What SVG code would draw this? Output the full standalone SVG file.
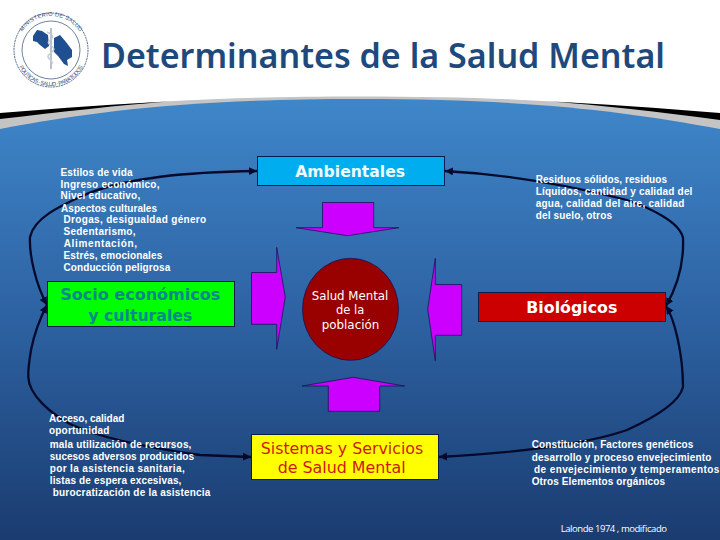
<svg xmlns="http://www.w3.org/2000/svg" width="720" height="540" viewBox="0 0 720 540">
<style>
.lbl{font-family:"Liberation Sans","DejaVu Sans",sans-serif;font-weight:700;font-size:10px;fill:#fff}
.box{stroke:#0b1c4e;stroke-width:1}
.arr{fill:#cc00ff;stroke:#14145a;stroke-width:.8}
.con{fill:none;stroke:#050a2c;stroke-width:2.300;marker-start:url(#ah);marker-end:url(#ah)}
.big{font-family:"DejaVu Sans",sans-serif;font-size:16px}
.mid{font-family:"DejaVu Sans",sans-serif;font-size:12px;fill:#fff}
.logo{font-family:"Liberation Sans",sans-serif;font-size:5.600px;fill:#3a4f78;text-anchor:middle}
</style>
<defs>
<linearGradient id="bg" x1="0" y1="96" x2="0" y2="540" gradientUnits="userSpaceOnUse">
<stop offset="0" stop-color="#3f87ca"/><stop offset=".5" stop-color="#2d62a2"/><stop offset="1" stop-color="#1a3c70"/>
</linearGradient>
<linearGradient id="sl" x1="0" y1="0" x2="175" y2="0" gradientUnits="userSpaceOnUse">
<stop offset="0" stop-color="#000"/><stop offset=".85" stop-color="#000"/><stop offset="1" stop-color="#c4c4c4"/>
</linearGradient>
<linearGradient id="sr" x1="720" y1="0" x2="545" y2="0" gradientUnits="userSpaceOnUse">
<stop offset="0" stop-color="#000"/><stop offset=".85" stop-color="#000"/><stop offset="1" stop-color="#c4c4c4"/>
</linearGradient>
<marker id="ah" markerUnits="userSpaceOnUse" markerWidth="10" markerHeight="10" refX="8" refY="4" orient="auto-start-reverse">
<path d="M0,0 L8,4 L0,8 Z" fill="#050a2c"/>
</marker>
<path id="lt" d="M17,50 A34,34 0 0 1 85,50"/>
<path id="lb" d="M15,50 A36,36 0 0 0 87,50"/>
</defs>

<rect width="720" height="540" fill="#fff"/>
<g id="header">
<path d="M0,117 C100,104 200,96.500 360,96.500 C520,96.500 620,104 720,118 L720,131 L0,131 Z" fill="#c4c4c4"/>
<path d="M0,113 C60,108 120,104 175,101 C120,105 60,112 0,119 Z" fill="url(#sl)"/>
<path d="M720,113 C660,108 600,104 545,101 C600,105 660,112 720,120 Z" fill="url(#sr)"/>
<path d="M0,129 C100,110 200,99 360,99 C520,99 620,110 720,129 L720,540 L0,540 Z" fill="url(#bg)"/>
<text x="101" y="68" font-family="'Noto Sans','Open Sans',sans-serif" font-weight="600" font-size="34" fill="#1f497d" textLength="564" lengthAdjust="spacingAndGlyphs">Determinantes de la Salud Mental</text>
</g>

<g id="logo">
<circle cx="51" cy="50" r="37" fill="#fff" stroke="#2d4a78" stroke-width=".8" stroke-dasharray="2 .7"/>
<circle cx="51" cy="50" r="29" fill="#fff" stroke="#2d4a78" stroke-width=".7"/>
<path d="M33,36 L37,30 L42,31 L48,35 L49,46 L45,49 L40,45 L37,42 L33,41 Z" fill="#1f4e91"/>
<path d="M54,38 L60,35 L66,42 L72,50 L72,57 L67,60 L68,66 L64,64 L58,56 L54,52 Z" fill="#1f4e91"/>
<path d="M50,28 L52,28 L52,69 L50,69 Z" fill="#b8c0cc"/>
<path d="M47,32 C54,35 54,38 49,41 C46,44 54,46 54,49 C54,52 47,54 48,57 C49,60 53,60 52,64" fill="none" stroke="#c6ccd6" stroke-width="1.500"/>
<text class="logo"><textPath href="#lt" startOffset="50%" textLength="68">MINISTERIO DE SALUD</textPath></text>
<text class="logo"><textPath href="#lb" startOffset="50%" textLength="78">POLITICAS · SALUD · PARA TODOS</textPath></text>
</g>

<g id="connectors">
<path class="con" d="M257,171 C190,172 125,177 82,196 C60,206 34,218 30,237 C29,255 36,285 47,305"/>
<path class="con" d="M47,305 C38,322 33,340 31,350 C29,362 28,370 28.300,377 C29,395 50,413 70,424 C100,438 150,448 200,455 L251,457"/>
<path class="con" d="M445,171 C500,174 560,183 627,200 C650,208 680,222 683,238 C684,262 678,285 666,306"/>
<path class="con" d="M666,306 C675,320 683,355 683,387 C680,400 660,415 627,430 C590,443 520,453 439,457"/>
</g>

<g id="ambientales">
<rect class="box" x="257.500" y="156.500" width="187" height="29" fill="#00aeef"/>
<text class="big" x="295.300" y="177.300" fill="#f0fafa" font-weight="700" textLength="109.700" lengthAdjust="spacingAndGlyphs">Ambientales</text>
</g>
<g id="socio">
<rect class="box" x="47.500" y="281.500" width="187" height="45" fill="#00ff00"/>
<text class="big" x="60.300" y="300" fill="#008a8a" textLength="160" lengthAdjust="spacingAndGlyphs" font-weight="700">Socio económicos</text>
<text class="big" x="88.300" y="321" fill="#008a8a" textLength="104" lengthAdjust="spacingAndGlyphs" font-weight="700">y culturales</text>
</g>
<g id="biologicos">
<rect class="box" x="478.500" y="292.500" width="187" height="29" fill="#cc0000"/>
<text class="big" x="526.300" y="313.300" fill="#fff" font-weight="700" textLength="91" lengthAdjust="spacingAndGlyphs">Biológicos</text>
</g>
<g id="sistemas">
<rect class="box" x="251.500" y="434.500" width="187" height="45" fill="#ffff00"/>
<text class="big" x="260.700" y="453.700" fill="#cc1a10" textLength="162.600" lengthAdjust="spacingAndGlyphs">Sistemas y Servicios</text>
<text class="big" x="277.700" y="472.700" fill="#cc1a10" textLength="128" lengthAdjust="spacingAndGlyphs">de Salud Mental</text>
</g>
<g id="salud">
<ellipse cx="350.500" cy="309.300" rx="48" ry="51" fill="#990000" stroke="#14145a" stroke-width=".8"/>
<text class="mid" x="311.700" y="300" textLength="76.600" lengthAdjust="spacingAndGlyphs">Salud Mental</text>
<text class="mid" x="336" y="314.300" textLength="28.300" lengthAdjust="spacingAndGlyphs">de la</text>
<text class="mid" x="321.700" y="328.700" textLength="57.600" lengthAdjust="spacingAndGlyphs">población</text>
</g>

<g id="flechas">
<path class="arr" d="M322.500,202.500 H373.700 V227.700 L399,227.700 L347.500,235.700 L296,227.700 H322.500 Z"/>
<path class="arr" d="M251.500,272.500 H276.700 V247.300 L285.300,297 L276.700,349.300 V324.300 H251.500 Z"/>
<path class="arr" d="M461.700,284.500 H435.300 V258.300 L427.700,309.300 L435.300,360.700 V335.300 H461.700 Z"/>
<path class="arr" d="M328.300,411.300 H379.700 V386 H404.700 L353.300,377.300 L302,386 H328.300 Z"/>
</g>

<g id="texto-socio">
<text class="lbl" x="60.500" y="176" textLength="72">Estilos de vida</text>
<text class="lbl" x="60.500" y="187.700" textLength="99">Ingreso económico,</text>
<text class="lbl" x="60.500" y="199.300" textLength="79.700">Nivel educativo,</text>
<text class="lbl" x="61" y="211.500" textLength="96">Aspectos culturales</text>
<text class="lbl" x="63.500" y="223" textLength="142.700">Drogas, desigualdad género</text>
<text class="lbl" x="63.500" y="234.700" textLength="72">Sedentarismo,</text>
<text class="lbl" x="63.700" y="246.700" textLength="73.300">Alimentación,</text>
<text class="lbl" x="63.500" y="258.700" textLength="98.700">Estrés, emocionales</text>
<text class="lbl" x="63.500" y="270.700" textLength="106.700">Conducción peligrosa</text>
</g>
<g id="texto-ambientales">
<text class="lbl" x="535.700" y="182.700" textLength="131.300">Residuos sólidos, residuos</text>
<text class="lbl" x="535.700" y="194.700" textLength="156.700">Líquidos, cantidad y calidad del</text>
<text class="lbl" x="535.700" y="206.700" textLength="148.700">agua, calidad del aire, calidad</text>
<text class="lbl" x="535.700" y="218.700" textLength="76.300">del suelo, otros</text>
</g>
<g id="texto-sistemas">
<text class="lbl" x="49" y="421.700" textLength="75.300">Acceso, calidad</text>
<text class="lbl" x="49" y="433.700" textLength="60.300">oportunidad</text>
<text class="lbl" x="49.700" y="447.700" textLength="141.700">mala utilización de recursos,</text>
<text class="lbl" x="49.700" y="459.700" textLength="144.300">sucesos adversos producidos</text>
<text class="lbl" x="49.700" y="471.700" textLength="135">por la asistencia sanitaria,</text>
<text class="lbl" x="49.700" y="483.700" textLength="131.700">listas de espera excesivas,</text>
<text class="lbl" x="52.700" y="495.700" textLength="157.700">burocratización de la asistencia</text>
</g>
<g id="texto-biologicos">
<text class="lbl" x="531.700" y="447.700" textLength="161.700">Constitución, Factores genéticos</text>
<text class="lbl" x="531.700" y="460.700" textLength="179.700">desarrollo y proceso envejecimiento</text>
<text class="lbl" x="534" y="472.700" textLength="185.300">de envejecimiento y temperamentos</text>
<text class="lbl" x="531.700" y="484.700" textLength="133.300">Otros Elementos orgánicos</text>
</g>
<text x="560.700" y="532" font-family="'Open Sans',sans-serif" font-size="9.500" fill="#fff" textLength="106.300">Lalonde 1974 , modificado</text>
</svg>
